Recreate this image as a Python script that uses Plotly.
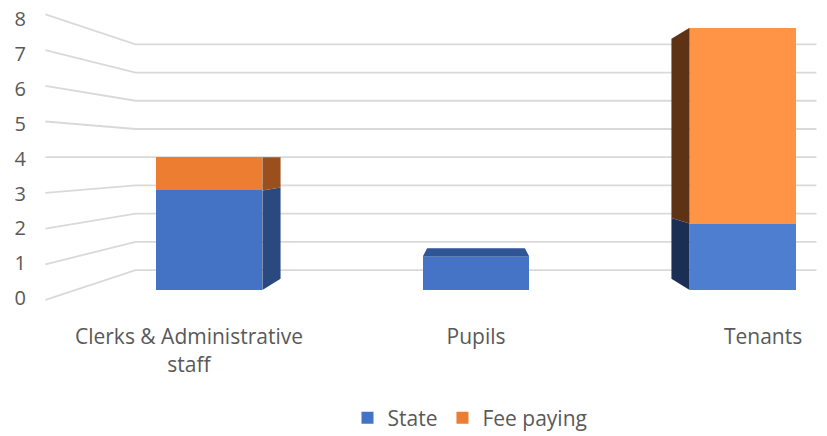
import plotly.graph_objects as go

categories = ["Clerks & Administrative<br>staff", "Pupils", "Tenants"]
state = [3, 1, 2]
fee_paying = [1, 0, 5.9]
y_ticks = [0, 1, 2, 3, 4, 5, 6, 7, 8]

# front faces (Excel lights the right-hand bar a bit more)
STATE_FRONT = ["#4472c4", "#4573c6", "#4e7ed0"]
FEE_FRONT = ["#ed7d31", "#ee7e32", "#ff9446"]
STATE_SIDE = {"right": "#2a4a7f", "left": "#1b2e53", "top": "#2f5597"}
FEE_SIDE = {"right": "#9b4f1d", "left": "#5e3215", "top": "#b05a22"}
GRID = "#d9d9d9"
TEXT = "#595959"
FONT = "Open Sans"

# the page puts the plot 8px in from the top-left corner
OFF = 8
W, H = 827 - OFF, 436 - OFF
# plot area in screen pixels and the fake 3-D box
PL, PR, PT, PB = 27, 827, 8, 314
X_FIRST, X_STEP = 209, 267   # front centre of first bar, spacing
Y_ZERO, Y_UNIT = 290, 33.2   # front zero line, px per unit
VX, VY = 1.0, 4.0            # vanishing point (category, value)
DEPTH_BAR = 0.915
DEPTH_WALL = 0.85
DEPTH_FRONT = 1.075
DEPTH_LABEL = 1.05
LABEL_DROP = 1.5             # px, value labels sit a touch low
BAR_W = 0.4
BOX_L, BOX_R = -0.5, 2.5


def persp(x, y, s):
    return VX + (x - VX) * s, VY + (y - VY) * s


x_range = [(PL - X_FIRST) / X_STEP, (PR - X_FIRST) / X_STEP]
y_range = [(Y_ZERO - PB) / Y_UNIT, (Y_ZERO - PT) / Y_UNIT]
x_dom = [(PL - OFF) / W, (PR - OFF) / W]
y_dom = [(H + OFF - PB) / H, (H + OFF - PT) / H]

fig = go.Figure()

# walls: left side lines + back wall lines
gx, gy = [], []
for k in y_ticks:
    fx, fy = persp(BOX_L, k, DEPTH_FRONT)
    bx, by = persp(BOX_L, k, DEPTH_WALL)
    rx, ry = persp(BOX_R, k, DEPTH_WALL)
    gx += [fx, bx, rx, None]
    gy += [fy, by, ry, None]
fig.add_trace(go.Scatter(x=gx, y=gy, mode="lines", line=dict(color=GRID, width=1.8),
                         hoverinfo="skip", showlegend=False, xaxis="x", yaxis="y"))

xs = list(range(len(categories)))
fig.add_trace(go.Bar(x=xs, y=state, name="State", width=BAR_W, marker_color=STATE_FRONT,
                     marker_line_width=0, xaxis="x2", yaxis="y2"))
fig.add_trace(go.Bar(x=xs, y=fee_paying, name="Fee paying", width=BAR_W, marker_color=FEE_FRONT,
                     marker_line_width=0, xaxis="x2", yaxis="y2"))

# side and top faces
for i in xs:
    left, right = i - BAR_W / 2, i + BAR_W / 2
    lo = 0
    top_side = None
    for val, side in [(state[i], STATE_SIDE), (fee_paying[i], FEE_SIDE)]:
        if val <= 0:
            continue
        hi = lo + val
        faces = []
        if right < VX:
            faces.append((right, side["right"]))
        elif left > VX:
            faces.append((left, side["left"]))
        for edge, col in faces:
            p1 = persp(edge, hi, DEPTH_BAR)
            p2 = persp(edge, lo, DEPTH_BAR)
            fig.add_trace(go.Scatter(x=[edge, edge, p1[0], p2[0], edge], y=[lo, hi, p1[1], p2[1], lo],
                                     mode="lines", fill="toself", fillcolor=col, line=dict(width=0),
                                     hoverinfo="skip", showlegend=False, xaxis="x2", yaxis="y2"))
        top_side = side
        lo = hi
    if top_side is not None and lo < VY:
        pl = persp(left, lo, DEPTH_BAR)
        pr = persp(right, lo, DEPTH_BAR)
        fig.add_trace(go.Scatter(x=[left, right, pr[0], pl[0], left], y=[lo, lo, pr[1], pl[1], lo],
                                 mode="lines", fill="toself", fillcolor=top_side["top"], line=dict(width=0),
                                 hoverinfo="skip", showlegend=False, xaxis="x2", yaxis="y2"))

# labels sit on the front edge of the floor / left wall
cat_pos = [persp(i, 0, DEPTH_FRONT)[0] for i in xs]
val_pos = [persp(0, k, DEPTH_LABEL)[1] - LABEL_DROP / Y_UNIT for k in y_ticks]

hidden = dict(showgrid=False, zeroline=False, showticklabels=False, showline=False, ticks="")
fig.update_layout(
    width=W, height=H,
    margin=dict(l=0, r=0, t=0, b=0, autoexpand=False),
    paper_bgcolor="white", plot_bgcolor="white",
    font=dict(family=FONT, size=21, color=TEXT),
    barmode="stack",
    showlegend=True,
    xaxis=dict(domain=x_dom, range=x_range, **hidden),
    yaxis=dict(domain=y_dom, range=y_range, **hidden),
    xaxis2=dict(domain=x_dom, range=x_range, overlaying="x", anchor="y2",
                tickmode="array", tickvals=cat_pos, ticktext=categories, showgrid=False, zeroline=False,
                showline=False, ticks="outside", ticklen=4, tickcolor="rgba(0,0,0,0)",
                tickfont=dict(size=21, color=TEXT)),
    yaxis2=dict(domain=y_dom, range=y_range, overlaying="y", anchor="x2",
                tickmode="array", tickvals=val_pos, ticktext=[str(k) for k in y_ticks],
                showgrid=False, zeroline=False, showline=False, ticks="", ticklabeloverflow="allow",
                tickfont=dict(size=20, color=TEXT)),
    legend=dict(orientation="h", x=(470 - OFF) / W, xanchor="center",
                yref="container", y=(436 - 418) / H, yanchor="middle",
                traceorder="normal", font=dict(size=21, color=TEXT)),
)

fig.write_html("out.html")
